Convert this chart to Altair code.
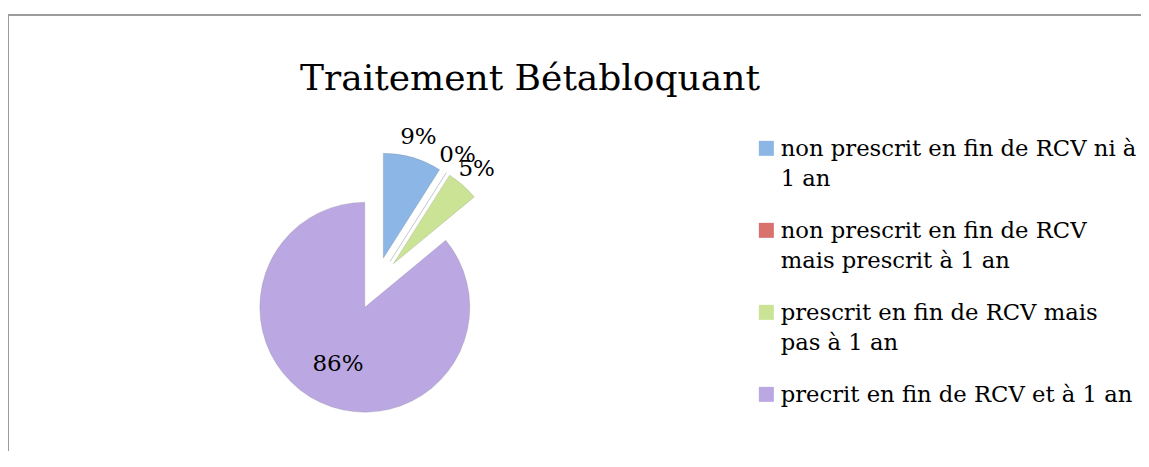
import json
import altair as alt
import pandas as pd

# ---------------- data ----------------
chart_title = "Traitement Bétabloquant"
legend_lines = [
    ["non prescrit en fin de RCV ni à", "1 an"],
    ["non prescrit en fin de RCV", "mais prescrit à 1 an"],
    ["prescrit en fin de RCV mais", "pas à 1 an"],
    ["precrit en fin de RCV et à 1 an"],
]
categories = [" ".join(l) for l in legend_lines]
values = [9, 0, 5, 86]
pct_labels = ["9%", "0%", "5%", "86%"]
colors = ["#8cb6e6", "#d9716d", "#cbe394", "#bba8e2"]

df = pd.DataFrame({
    "cat": categories,
    "value": values,
    "label": pct_labels,
    "order": list(range(len(categories))),
})

# ---------------- layout ----------------
W, H = 1133, 436
R = 105                 # pie radius (px)
CX, CY = 368, 268.5     # pie centre in view px
EXPLODE = 0.25          # explosion distance in radius units
FONT = "DejaVu Serif"

xs = alt.Scale(domain=[-CX / R, (W - CX) / R], nice=False, zero=False)
ys = alt.Scale(domain=[-(H - CY) / R, CY / R], nice=False, zero=False)
ts = alt.Scale(domain=[0, 100], range=[0, 6.283185307179586])

label_expr = " : ".join(
    f"datum.label == {json.dumps(c, ensure_ascii=False)} ? {json.dumps(l, ensure_ascii=False)}"
    for c, l in zip(categories, legend_lines)
) + " : datum.label"

base = alt.Chart(df).transform_window(
    cum="sum(value)", sort=[alt.SortField("order")], frame=[None, 0]
).transform_calculate(
    start="datum.cum - datum.value",
    mid="(datum.cum - datum.value / 2) / 100 * 2 * PI",
    ex=f"{EXPLODE} * sin(datum.mid)",
    ey=f"{EXPLODE} * cos(datum.mid)",
    lf="datum.value > 50 ? 0.6 : 1.2",
    lx="datum.ex + datum.lf * sin(datum.mid)",
    ly="datum.ey + datum.lf * cos(datum.mid)",
)

arcs = base.mark_arc(radius=R, stroke="#7f7f7f", strokeWidth=0.4, strokeOpacity=0.6).encode(
    x=alt.X("ex:Q", scale=xs, axis=None),
    y=alt.Y("ey:Q", scale=ys, axis=None),
    theta=alt.Theta("start:Q", scale=ts, stack=None),
    theta2="cum:Q",
    color=alt.Color(
        "cat:N",
        scale=alt.Scale(domain=categories, range=colors),
        legend=alt.Legend(
            title=None,
            orient="none",
            legendX=747,
            legendY=122,
            symbolType="square",
            symbolSize=225,
            symbolStrokeWidth=0,
            symbolOpacity=1,
            labelFont=FONT,
            labelFontSize=22.7,
            labelColor="black",
            labelLimit=600,
            labelOffset=3,
            labelBaseline="top",
            rowPadding=27,
            padding=0,
            labelExpr=label_expr,
        ),
    ),
)

texts = base.mark_text(font=FONT, fontSize=23, color="black", baseline="middle", align="center").encode(
    x=alt.X("lx:Q", scale=xs, axis=None),
    y=alt.Y("ly:Q", scale=ys, axis=None),
    text="label:N",
)

one = pd.DataFrame({"t": [chart_title]})
title_mark = alt.Chart(one).mark_text(font=FONT, fontSize=36, color="black", baseline="alphabetic", align="center").encode(
    x=alt.value(522), y=alt.value(75), text="t:N"
)

frame_top = alt.Chart(one).mark_rule(color="#9c9c9c", strokeWidth=2).encode(
    x=alt.value(0), x2=alt.value(W), y=alt.value(0)
)
frame_left = alt.Chart(one).mark_rule(color="#9c9c9c", strokeWidth=2).encode(
    x=alt.value(0), y=alt.value(0), y2=alt.value(H)
)

chart = alt.layer(frame_top, frame_left, title_mark, arcs, texts).properties(
    width=W,
    height=H,
    padding={"left": 0, "top": 7, "right": 0, "bottom": 0},
    autosize=alt.AutoSizeParams(type="none"),
    background="white",
).configure(
    style={"guide-label": {"lineHeight": 30, "dy": -10}}
).configure_view(stroke=None)

chart.save("out.html", embed_options={"renderer": "svg", "actions": False})
